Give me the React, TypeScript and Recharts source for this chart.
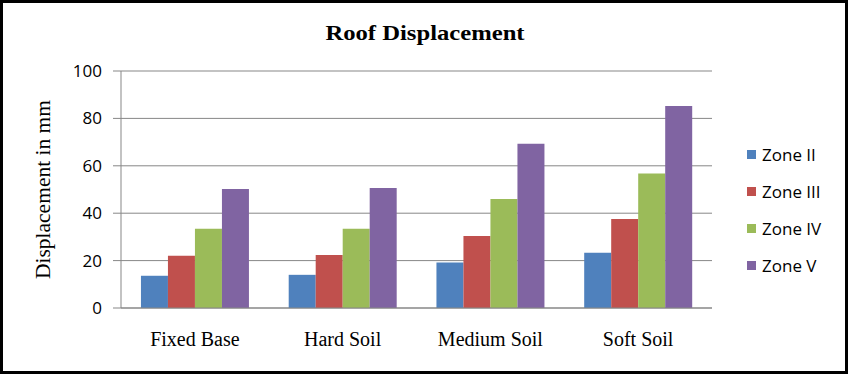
import React from "react";
import { BarChart, Bar, XAxis, YAxis, CartesianGrid } from "recharts";

const categories = ["Fixed Base", "Hard Soil", "Medium Soil", "Soft Soil"];
const seriesNames = ["Zone II", "Zone III", "Zone IV", "Zone V"];
const zoneII = [13.6, 14.0, 19.2, 23.3];
const zoneIII = [22.0, 22.4, 30.4, 37.6];
const zoneIV = [33.4, 33.4, 46.0, 56.7];
const zoneV = [50.2, 50.6, 69.3, 85.2];
const yTicks = [0, 20, 40, 60, 80, 100];
const boundaryTicks = [0, 1, 2, 3, 4];
const colors = ["#4F81BD", "#C0504D", "#9BBB59", "#8064A2"];
const seriesValues = [zoneII, zoneIII, zoneIV, zoneV];

const data = categories.map((c, i) => {
  const row: Record<string, string | number> = { name: c };
  seriesNames.forEach((s, k) => {
    row[s] = seriesValues[k][i];
  });
  return row;
});

const AXIS = "#878787";

const CatTick = (props: any) => {
  const { x, y, payload } = props;
  return (
    <text
      x={x}
      y={y + 38}
      textAnchor="middle"
      fontFamily="'Liberation Serif', 'Times New Roman', serif"
      fontSize={20}
      fill="#000"
    >
      {payload.value}
    </text>
  );
};

const YLabel = (props: any) => {
  const { viewBox } = props;
  const cy = viewBox.y + viewBox.height / 2;
  const cx = 43;
  return (
    <text
      x={cx}
      y={cy}
      transform={`rotate(-90 ${cx} ${cy})`}
      textAnchor="middle"
      dominantBaseline="central"
      fontFamily="'Liberation Serif', 'Times New Roman', serif"
      fontSize={21.5}
      fill="#000"
    >
      Displacement in mm
    </text>
  );
};

export default function App() {
  return (
    <div
      style={{
        position: "absolute",
        left: 0,
        top: 0,
        width: 848,
        height: 374,
        background: "#fff",
        overflow: "hidden",
      }}
    >
      <div
        style={{
          position: "absolute",
          left: 0,
          width: 850,
          top: 22,
          textAlign: "center",
          fontFamily: "'Liberation Serif', 'Times New Roman', serif",
          fontWeight: "bold",
          fontSize: 22,
          lineHeight: 1,
          color: "#000",
          transform: "scaleX(1.12)",
          transformOrigin: "425px 0",
        }}
      >
        Roof Displacement
      </div>
      <div style={{ position: "absolute", left: 0, top: 0 }}>
        <BarChart
          width={848}
          height={374}
          data={data}
          margin={{ top: 71, right: 136, bottom: 0, left: 0 }}
          barGap={0}
          barCategoryGap="13.5%"
        >
          <CartesianGrid vertical={false} stroke={AXIS} strokeWidth={1} />
          <XAxis
            xAxisId="bounds"
            type="number"
            domain={[0, 4]}
            ticks={boundaryTicks}
            height={0}
            tickSize={7}
            tickLine={{ stroke: AXIS }}
            axisLine={false}
            tickFormatter={() => ""}
            allowDataOverflow
          />
          <XAxis
            dataKey="name"
            height={66}
            tickSize={0}
            tickMargin={0}
            tickLine={false}
            axisLine={{ stroke: AXIS }}
            tick={<CatTick />}
            interval={0}
          />
          <YAxis
            width={121}
            domain={[0, 100]}
            ticks={yTicks}
            tickSize={8}
            tickMargin={11}
            axisLine={{ stroke: AXIS }}
            tickLine={{ stroke: AXIS }}
            tick={{
              fill: "#000",
              fontFamily: "'Open Sans', sans-serif",
              fontSize: 17,
            }}
            label={<YLabel />}
          />
          {seriesNames.map((s, k) => (
            <Bar
              key={s}
              dataKey={s}
              fill={colors[k]}
              isAnimationActive={false}
            />
          ))}
        </BarChart>
      </div>
      <div style={{ position: "absolute", left: 747, top: 136 }}>
        {seriesNames.map((s, k) => (
          <div
            key={s}
            style={{
              display: "flex",
              alignItems: "center",
              height: 37,
              fontFamily: "'Open Sans', sans-serif",
              fontSize: 17,
              color: "#000",
            }}
          >
            <span
              style={{
                display: "inline-block",
                width: 9,
                height: 9,
                background: colors[k],
                marginRight: 6,
              }}
            />
            {s}
          </div>
        ))}
      </div>
      <div
        style={{
          position: "absolute",
          left: 0,
          top: 0,
          width: 848,
          height: 374,
          border: "3px solid #000",
          boxSizing: "border-box",
          pointerEvents: "none",
        }}
      />
    </div>
  );
}
